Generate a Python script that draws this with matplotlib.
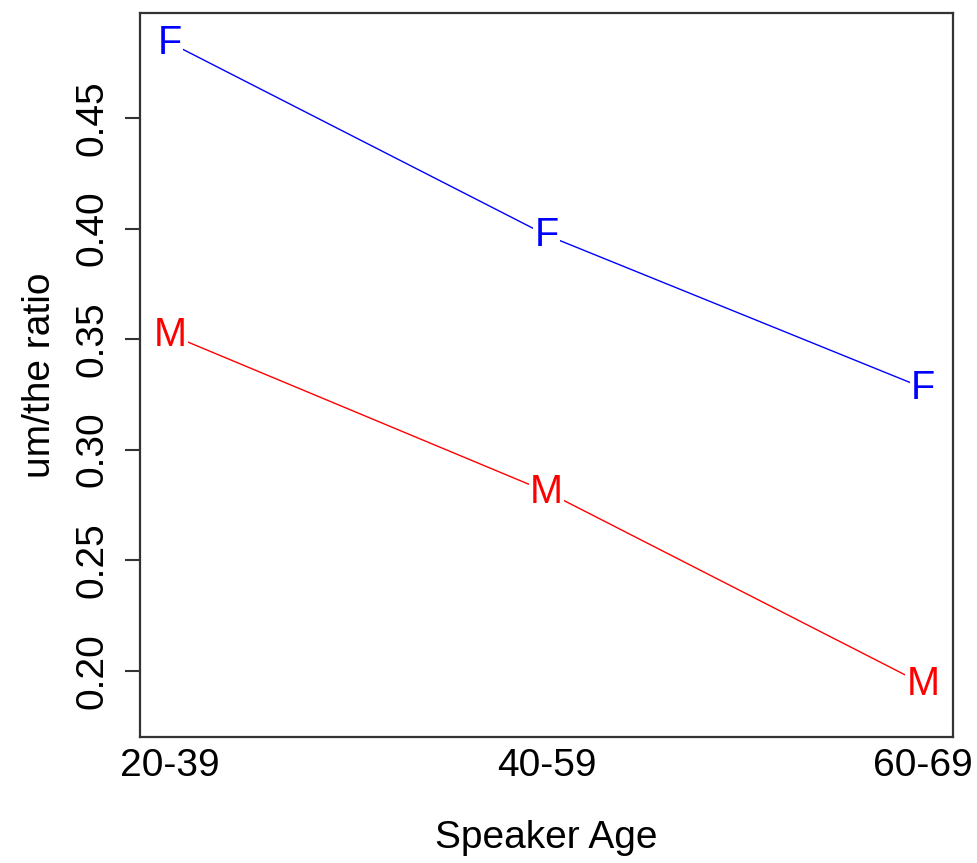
import numpy as np
import matplotlib
matplotlib.use("Agg")
import matplotlib.pyplot as plt

plt.rcParams["font.family"] = ["Liberation Sans", "DejaVu Sans"]

# dados
faixas = ["20-39", "40-59", "60-69"]
razao_f = [0.484, 0.397, 0.328]
razao_m = [0.352, 0.281, 0.194]

fig = plt.figure(figsize=(9.78, 8.63), dpi=100)
ax = fig.add_axes([0.1431, 0.146, 0.9744 - 0.1431, 0.985 - 0.146])

x = np.arange(1, len(faixas) + 1)
for valores, letra, cor in [(razao_f, "F", "blue"), (razao_m, "M", "red")]:
    ax.plot(x, valores, color=cor, linewidth=1, zorder=2)
    for xi, yi in zip(x, valores):
        ax.text(xi, yi, letra, color=cor, fontsize=28.5, ha="center", va="center",
                zorder=4, bbox=dict(boxstyle="square,pad=0.03", fc="white", ec="none"))

ax.set_xlim(0.92, 3.08)
ax.set_ylim(0.170, 0.4975)
ax.set_xticks(x)
ax.set_xticklabels(faixas, fontsize=28)
ax.set_yticks([0.20, 0.25, 0.30, 0.35, 0.40, 0.45])
ax.set_yticklabels(["0.20", "0.25", "0.30", "0.35", "0.40", "0.45"], fontsize=28,
                   rotation=90, va="center")
ax.tick_params(axis="x", length=0, pad=8)
ax.tick_params(axis="y", length=11, width=1.5, color="#333333", pad=10)
for s in ax.spines.values():
    s.set_linewidth(1.6)
    s.set_color("#333333")

ax.set_xlabel("Speaker Age", fontsize=28, labelpad=26)
ax.set_ylabel("um/the ratio", fontsize=28, labelpad=12)

fig.savefig("out.png", dpi=100)
plt.close(fig)
